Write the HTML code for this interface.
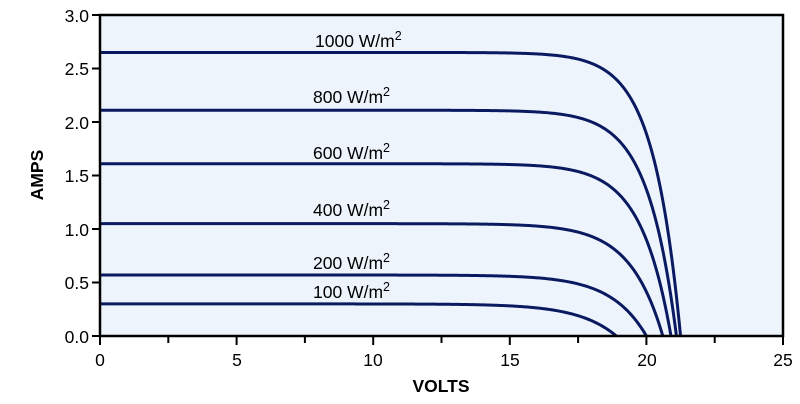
<!DOCTYPE html>
<html><head><meta charset="utf-8"><style>
html,body{margin:0;padding:0;background:#fff;}
svg{display:block;font-family:"Liberation Sans",Arial,sans-serif;}
</style></head><body>
<svg id="s" width="800" height="404" viewBox="0 0 800 404" xmlns="http://www.w3.org/2000/svg">
<rect x="100" y="15" width="683" height="321" fill="#eef4fc"/>
<g id="curves" fill="none" stroke="#0a1a60" stroke-width="3"></g>
<rect x="100" y="15" width="683" height="321" fill="none" stroke="#000" stroke-width="2.5"/>
<g stroke="#000" stroke-width="2" id="ticks"></g>
<g font-size="17.5" fill="#000" text-anchor="end">
<text x="89" y="22">3.0</text><text x="89" y="75">2.5</text><text x="89" y="129">2.0</text>
<text x="89" y="182">1.5</text><text x="89" y="236">1.0</text><text x="89" y="289">0.5</text><text x="89" y="343">0.0</text>
</g>
<g font-size="17.5" fill="#000" text-anchor="middle">
<text x="100" y="366">0</text><text x="237" y="366">5</text><text x="373" y="366">10</text>
<text x="510" y="366">15</text><text x="647" y="366">20</text><text x="783" y="366">25</text>
</g>
<text x="441" y="392" font-size="17.5" font-weight="bold" text-anchor="middle">VOLTS</text>
<text transform="translate(43,175) rotate(-90)" font-size="17.5" font-weight="bold" text-anchor="middle">AMPS</text>
<g font-size="17.5" fill="#000">
<text x="315" y="47">1000 W/m<tspan dy="-7" font-size="12.5">2</tspan></text>
<text x="313" y="103">800 W/m<tspan dy="-7" font-size="12.5">2</tspan></text>
<text x="313" y="159">600 W/m<tspan dy="-7" font-size="12.5">2</tspan></text>
<text x="313" y="216">400 W/m<tspan dy="-7" font-size="12.5">2</tspan></text>
<text x="313" y="269">200 W/m<tspan dy="-7" font-size="12.5">2</tspan></text>
<text x="313" y="298">100 W/m<tspan dy="-7" font-size="12.5">2</tspan></text>
</g>
</svg>
<script>
var X=function(v){return 100+v*27.32},Y=function(i){return 336-i*107};
var c=[[2.65,21.25,1.0],[2.11,21.1,1.05],[1.61,20.9,1.1],[1.05,20.6,1.2],[0.57,20.0,1.3],[0.30,18.9,1.4]];
var g=document.getElementById('curves'),h='';
c.forEach(function(p){var d='',a=p[2],n=Math.exp(-p[1]/a);
for(var k=0;k<=400;k++){var v=p[1]*k/400;var i=p[0]*(1-(Math.exp((v-p[1])/a)-n)/(1-n));
d+=(k?'L':'M')+X(v).toFixed(2)+' '+Y(i).toFixed(2);}
h+='<path d="'+d+'"/>';});
g.innerHTML=h;
var t='';
for(var k=0;k<=10;k++){var x=X(k*2.5);t+='<line x1="'+x+'" y1="336" x2="'+x+'" y2="'+(k%2?343:345)+'"/>';}
for(var k=0;k<=6;k++){var y=Y(k*0.5);t+='<line x1="92" y1="'+y+'" x2="100" y2="'+y+'"/>';}
document.getElementById('ticks').innerHTML=t;
</script>
</body></html>
